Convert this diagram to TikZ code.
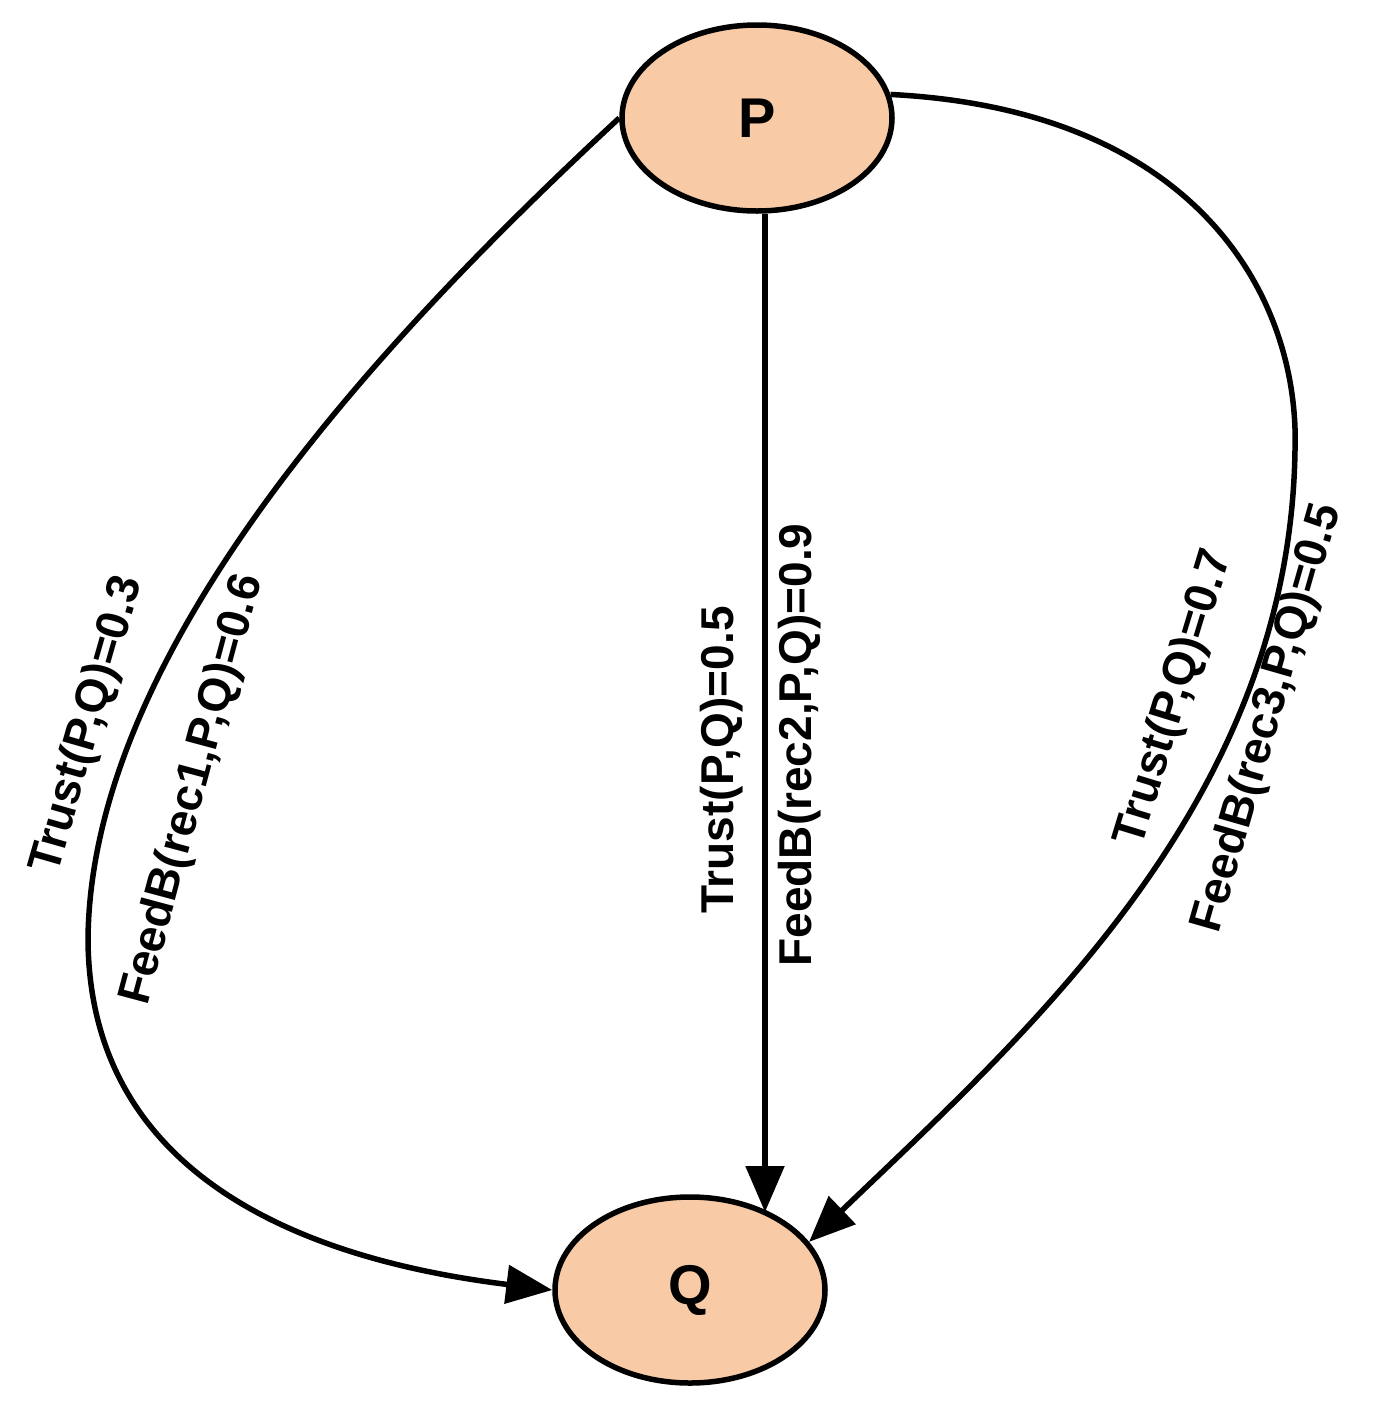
\documentclass[tikz,border=0pt]{standalone}
\usepackage{fontspec}
\setmainfont{Liberation Sans}
\usetikzlibrary{arrows.meta,calc,shapes.geometric}
\definecolor{peach}{HTML}{F8CBA6}
\begin{document}
\begin{tikzpicture}[x=1pt,y=-1pt,
  nd/.style={ellipse,draw,line width=5.5pt,fill=peach,minimum width=270pt,minimum height=186pt,font=\fontsize{56}{60}\selectfont\bfseries,inner sep=0},
  ed/.style={line width=5.5pt,-{Triangle[length=46pt,width=38pt]}},
  lb/.style={font=\fontsize{46}{50}\selectfont\bfseries,inner sep=0}]
\useasboundingbox (0,0) rectangle (1379,1414);
\node[nd] (P) at (757,118) {P};
\node[nd] (Q) at (690,1290) {Q};
\draw[ed] (P.west) .. controls (380,340) and (90,650) .. (88,940) .. controls (90,1200) and (350,1265) .. (Q.west);
\draw[ed] ($(P.south)+(8,0)$) -- (765,1212);
\draw[ed] (P.10) .. controls (1200,110) and (1300,300) .. (1295,450) .. controls (1290,800) and (1030,1030) .. (Q.22);
\node[lb,rotate=74] (l1) at (88,725) {Trust(P,Q)=0.3};
\node[lb,rotate=75] (l2) at (193,790) {FeedB(rec1,P,Q)=0.6};
\node[lb,rotate=90] (m1) at (722,760) {Trust(P,Q)=0.5};
\node[lb,rotate=90] (m2) at (800,745) {FeedB(rec2,P,Q)=0.9};
\node[lb,rotate=73] (r1) at (1175,698) {Trust(P,Q)=0.7};
\node[lb,rotate=74] (r2) at (1268,718) {FeedB(rec3,P,Q)=0.5};
\end{tikzpicture}
\end{document}
